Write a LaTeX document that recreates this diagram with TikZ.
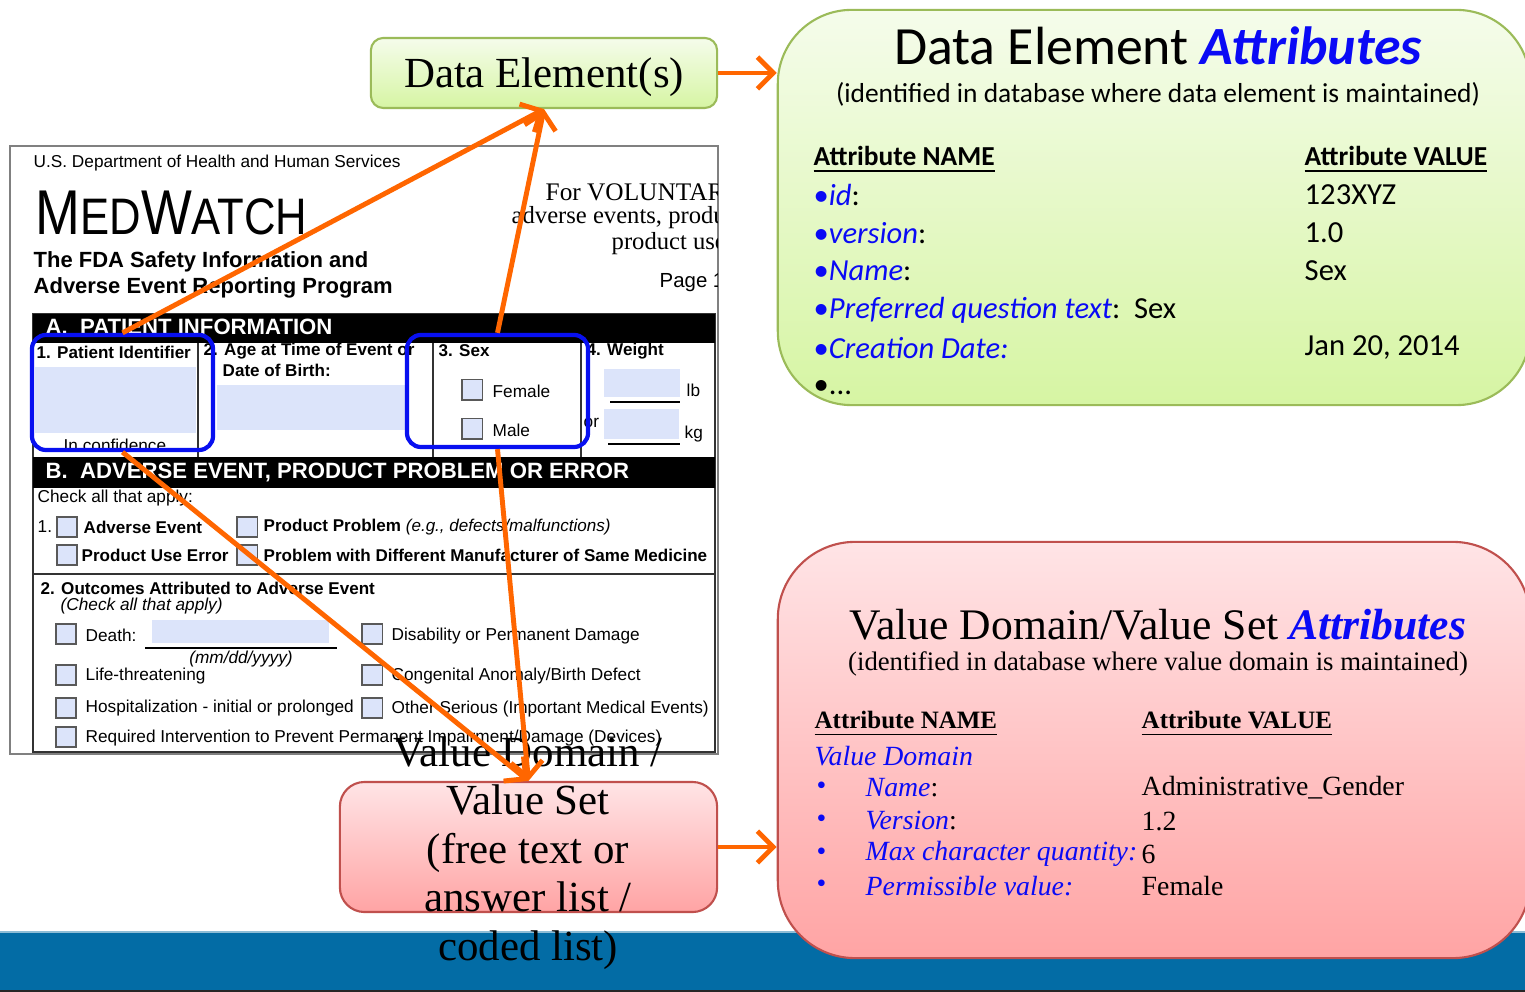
\documentclass[tikz,border=0pt]{standalone}
\usepackage{fontspec}
\setmainfont{Liberation Serif}
\newfontfamily\calibri{Carlito}
\newfontfamily\arial{Liberation Sans}
\newfontfamily\medfont[FakeStretch=0.85]{Liberation Sans}
\usepackage{xcolor}
\usepackage{tikz}
\usetikzlibrary{positioning}
\usetikzlibrary{calc}
\usetikzlibrary{arrows.meta}

\definecolor{linkorange}{RGB}{255,102,0}
\definecolor{selblue}{RGB}{8,16,240}
\definecolor{attrblue}{RGB}{10,10,245}
\definecolor{fieldblue}{RGB}{220,228,250}
\definecolor{bandblue}{RGB}{3,108,165}
\definecolor{greenedge}{RGB}{155,187,89}
\definecolor{greentop}{RGB}{245,252,235}
\definecolor{greenbot}{RGB}{214,245,163}
\definecolor{pinkedge}{RGB}{192,80,77}
\definecolor{pinktop}{RGB}{255,228,230}
\definecolor{pinkbot}{RGB}{255,164,164}

\tikzset{
	formtxt/.style={font=\arial\fontsize{4.9}{5.9}\selectfont, inner sep=0pt, anchor=west},
	formbold/.style={font=\arial\bfseries\fontsize{4.85}{5.8}\selectfont, inner sep=0pt, anchor=west},
	formital/.style={font=\arial\itshape\fontsize{4.9}{5.9}\selectfont, inner sep=0pt, anchor=west},
	formhead/.style={font=\fontsize{7}{8.4}\selectfont, inner sep=0pt, anchor=west},
	barhead/.style={font=\arial\bfseries\fontsize{6.3}{7.5}\selectfont, text=white, inner sep=0pt, anchor=west},
	checkbox/.style={draw=gray!70!black, fill=fieldblue, line width=0.4pt, minimum size=5.8pt, inner sep=0pt},
	selbox/.style={draw=selblue, line width=1.2pt, rounded corners=4pt, minimum width=1.81cm, inner sep=0pt},
	greenbox/.style={draw=greenedge, line width=0.6pt, top color=greentop, bottom color=greenbot, inner sep=0pt},
	pinkbox/.style={draw=pinkedge, line width=0.6pt, top color=pinktop, bottom color=pinkbot, inner sep=0pt},
	linkarrow/.style={draw=linkorange, line width=1.4pt, -{Straight Barb[length=4.5pt,width=9pt]}},
	derow/.style={font=\calibri\fontsize{8.7}{10.4}\selectfont, inner sep=0pt, anchor=west},
	vdrow/.style={font=\fontsize{7.9}{9.5}\selectfont, inner sep=0pt, anchor=west},
}

\begin{document}
\begin{tikzpicture}[x=0.01cm, y=-0.01cm]
	\clip (0,0) rectangle (1525,992);
	\fill[white] (0,0) rectangle (1525,992);

	% slide band
	\fill[bandblue] (0,932) rectangle (1525,992);
	\draw[bandblue!45!white, line width=0.5pt] (0,932) -- (1525,932);
	\draw[black!85, line width=0.8pt] (0,991) -- (1525,991);

	% the MedWatch form
	\draw[gray, line width=0.6pt] (10,146) rectangle (718,754);
	\begin{scope}
		\clip (10,146) rectangle (717,754);
		\node[formhead, font=\fontsize{7.2}{8.6}\selectfont] (fvol) at (545,192) {For VOLUNTARY};
		\node[formhead] (fadv) at (511,218) {adverse events, product};
		\node[formhead] (fuse) at (611,244) {product use};
		\node[font=\arial\fontsize{5.8}{7}\selectfont, inner sep=0pt, anchor=west] (fpage) at (659,283) {Page 1};
	\end{scope}
	\node[formtxt] (fdept) at (33,163) {U.S. Department of Health and Human Services};
	\node[font=\medfont, inner sep=0pt, anchor=base west] (fmw) at (35,235)
		{{\fontsize{18}{18}\selectfont M}{\fontsize{14.6}{15}\selectfont ED}{\fontsize{18}{18}\selectfont W}{\fontsize{14.6}{15}\selectfont ATCH}};
	\node[font=\arial\bfseries\fontsize{6.25}{7.5}\selectfont, inner sep=0pt, anchor=west] (fprog1) at (33,262) {The FDA Safety Information and};
	\node[font=\arial\bfseries\fontsize{6.25}{7.5}\selectfont, inner sep=0pt, anchor=west] (fprog2) at (33,288) {Adverse Event Reporting Program};

	% section A
	\draw[black!80, line width=0.5pt] (33,314) rectangle (715,752);
	\fill[black] (33,314) rectangle (715,343);
	\node[barhead] (secA) at (45,327) {A.\ \ PATIENT INFORMATION};
	\draw[black!80, line width=0.5pt] (198,343) -- (198,457) (433,343) -- (433,457) (581,343) -- (581,457);
	\node[formbold] (fpid) at (36,352) {1. Patient Identifier};
	\fill[fieldblue] (35,367) rectangle (196,433);
	\node[formtxt] (fconf) at (63,445) {In confidence};
	\node[formbold] (fage) at (203,351) {2. Age at Time of Event or};
	\node[formbold] (fdob) at (222,370) {Date of Birth:};
	\fill[fieldblue] (217,385) rectangle (405,430);
	\node[formbold] (fsex) at (438,351) {3. Sex};
	\node[formtxt] (ffem) at (492,391) {Female};
	\node[formtxt] (fmale) at (492,430) {Male};
	\node[formbold] (fwt) at (586,351) {4. Weight};
	\fill[fieldblue] (604,369) rectangle (680,397);
	\fill[fieldblue] (604,409) rectangle (679,439);
	\draw[black, line width=0.5pt] (610,402) -- (680,402) (608,444) -- (680,444);
	\node[formtxt] (flb) at (686,390) {lb};
	\node[formtxt] (for) at (583,423) {or};
	\node[formtxt] (fkg) at (684,434) {kg};

	% section B
	\fill[black] (33,457) rectangle (715,488);
	\node[barhead] (secB) at (45,472) {B.\ \ ADVERSE EVENT, PRODUCT PROBLEM OR ERROR};
	\node[formtxt] (fcheck) at (37,498) {Check all that apply:};
	\node[formtxt] (fone) at (37,527) {1.};
	\node[formbold] (fae) at (83,527) {Adverse Event};
	\node[formbold] (fpp) at (263,527) {Product Problem \normalfont\arial\itshape(e.g., defects/malfunctions)};
	\node[formbold] (fpue) at (81,555) {Product Use Error};
	\node[formbold] (fdiff) at (263,555) {Problem with Different Manufacturer of Same Medicine};
	\draw[black!80, line width=0.5pt] (33,574) -- (715,574);
	\node[formbold] (fout) at (40,588) {2. Outcomes Attributed to Adverse Event};
	\node[formital] (fcall) at (60,606) {(Check all that apply)};
	\node[formtxt] (fdeath) at (85,635) {Death:};
	\fill[fieldblue] (152,620) rectangle (329,643);
	\draw[black, line width=0.5pt] (145,648) -- (337,648);
	\node[formital, anchor=center] (fdate) at (241,659) {(mm/dd/yyyy)};
	\node[formtxt] (flife) at (85,676) {Life-threatening};
	\node[formtxt] (fhosp) at (85,708) {Hospitalization - initial or prolonged};
	\node[formtxt] (freq) at (85,738) {Required Intervention to Prevent Permanent Impairment/Damage (Devices)};
	\node[formtxt] (fdis) at (391,636) {Disability or Permanent Damage};
	\node[formtxt] (fcong) at (391,676) {Congenital Anomaly/Birth Defect};
	\node[formtxt] (foth) at (391,709) {Other Serious (Important Medical Events)};

	\foreach \cx/\cy [count=\i] in {472/390, 472/429, 67/527, 247/527, 67/555, 247/555,
		66/634, 66/675, 66/708, 66/737, 372/634, 372/675, 372/708}
		\node[checkbox] (cb\i) at (\cx,\cy) {};

	% fields picked out on the form
	\node[selbox, minimum height=1.15cm] (patid) at (122.5,392.5) {};
	\node[selbox, minimum height=1.12cm] (sexbox) at (497.5,391) {};

	% data element side
	\node[greenbox, rounded corners=3.5pt, minimum width=3.46cm, minimum height=0.70cm, text depth=0pt,
		font=\fontsize{12.2}{14}\selectfont] (dataelem) at (544,73) {Data Element(s)};
	\node[greenbox, rounded corners=21pt, minimum width=7.52cm, minimum height=3.95cm] (deattr) at (1154,207.5) {};
	\node[font=\calibri\fontsize{15.3}{18}\selectfont, inner sep=0pt] (detitle) at (1158,46)
		{Data Element \textcolor{attrblue}{\bfseries\itshape Attributes}};
	\node[font=\calibri\fontsize{7.8}{9.4}\selectfont, inner sep=0pt] (desub) at (1158,94)
		{(identified in database where data element is maintained)};
	\node[derow, font=\calibri\fontsize{7.8}{9.4}\selectfont] (dename) at (813,160) {\underline{\bfseries Attribute NAME}};
	\node[derow, font=\calibri\fontsize{7.8}{9.4}\selectfont] (devalue) at (1304,160) {\underline{\bfseries Attribute VALUE}};
	\node[derow] (deid) at (813,195) {\textcolor{attrblue}{•\itshape id}:};
	\node[derow] (dever) at (813,233) {\textcolor{attrblue}{•\itshape version}:};
	\node[derow] (denm) at (813,271) {\textcolor{attrblue}{•\itshape Name}:};
	\node[derow] (deqt) at (813,310) {\textcolor{attrblue}{•\itshape Preferred question text}:\ \ Sex};
	\node[derow] (dedate) at (813,348) {\textcolor{attrblue}{•\itshape Creation Date:}};
	\node[derow] (demore) at (813,388) {•...};
	\node[derow] (deidv) at (1304,195) {123XYZ};
	\node[derow] (deverv) at (1304,233) {1.0};
	\node[derow] (denmv) at (1304,271) {Sex};
	\node[derow] (dedatev) at (1304,348) {Jan 20, 2014};

	% value domain side
	\node[pinkbox, rounded corners=7pt, minimum width=3.77cm, minimum height=1.30cm] (valueset) at (528.5,847) {};
	\node[pinkbox, rounded corners=22pt, minimum width=7.52cm, minimum height=4.16cm] (vsattr) at (1154,750) {};
	\node[font=\fontsize{12.4}{14.8}\selectfont, inner sep=0pt] (vstitle) at (1158,625)
		{Value Domain/Value Set \textcolor{attrblue}{\bfseries\itshape Attributes}};
	\node[font=\fontsize{7.6}{9.1}\selectfont, inner sep=0pt] (vssub) at (1158,664)
		{(identified in database where value domain is maintained)};
	\node[vdrow, font=\fontsize{7.1}{8.5}\selectfont] (vsname) at (814,724) {\underline{\bfseries Attribute NAME}};
	\node[vdrow, font=\fontsize{7.1}{8.5}\selectfont] (vsvalue) at (1141,724) {\underline{\bfseries Attribute VALUE}};
	\node[vdrow, text=attrblue] (vsvd) at (814,756) {\itshape Value Domain};
	\foreach \ry [count=\j] in {788, 821, 854, 886}
		\node[vdrow, text=attrblue] (vsb\j) at (816,\ry) {•};
	\node[vdrow] (vsn1) at (865,788) {\textcolor{attrblue}{\itshape Name}:};
	\node[vdrow] (vsn2) at (865,821) {\textcolor{attrblue}{\itshape Version}:};
	\node[vdrow] (vsn3) at (865,854) {\textcolor{attrblue}{\itshape Max character quantity:}};
	\node[vdrow] (vsn4) at (865,886) {\textcolor{attrblue}{\itshape Permissible value:}};
	\node[vdrow] (vsv1) at (1141,788) {Administrative\_Gender};
	\node[vdrow] (vsv2) at (1141,821) {1.2};
	\node[vdrow] (vsv3) at (1141,854) {6};
	\node[vdrow] (vsv4) at (1141,886) {Female};

	\node[font=\fontsize{12.2}{13.8}\selectfont, align=center, inner sep=0pt] (vstext) at (528,853)
		{Value Domain /\\Value Set\\(free text or\\answer list /\\coded list)};

	% links
	\draw[linkarrow] (patid.north) -- (dataelem.south);
	\draw[linkarrow] (sexbox.north) -- (dataelem.south);
	\draw[linkarrow] (patid.south) -- (valueset.north);
	\draw[linkarrow] (sexbox.south) -- (valueset.north);
	\draw[linkarrow] (dataelem.east) -- (dataelem.east -| deattr.west);
	\draw[linkarrow] (valueset.east) -- (valueset.east -| vsattr.west);
\end{tikzpicture}
\end{document}
